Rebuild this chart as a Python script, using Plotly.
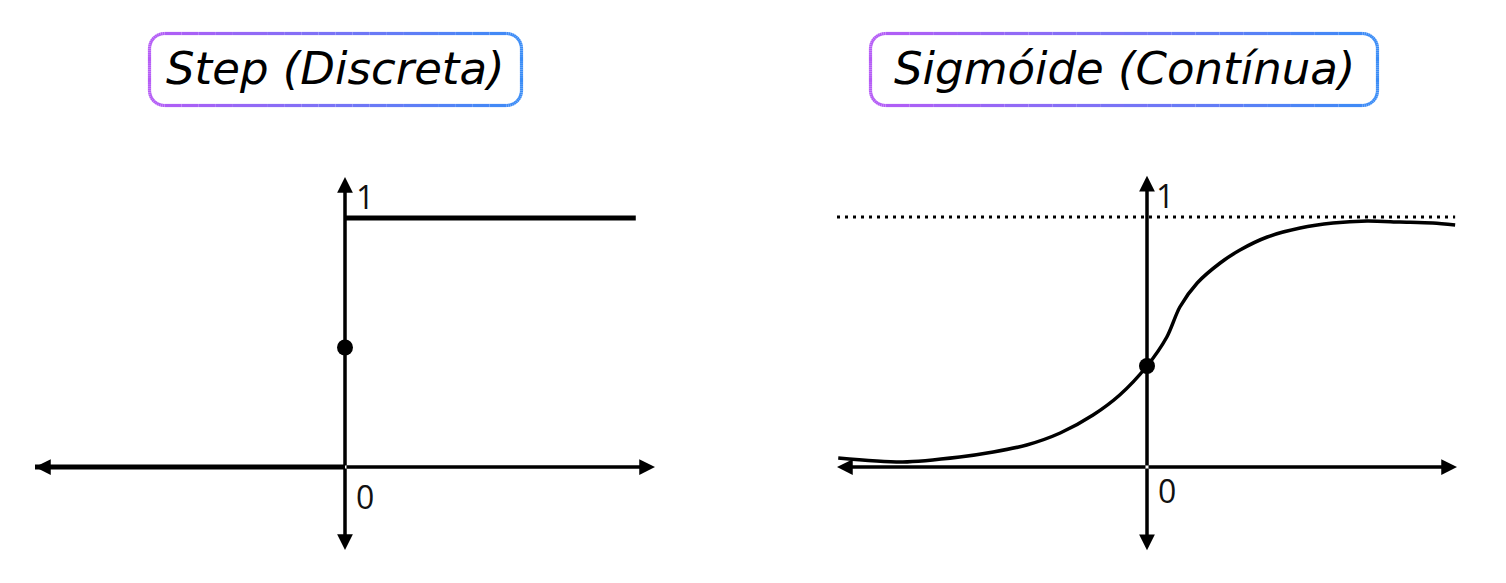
import plotly.graph_objects as go
import numpy as np

W, H = 1506, 583

# ---------------- data ----------------
titles = ["Step (Discreta)", "Sigmóide (Contínua)"]
tick_labels = ["0", "1"]

step_low_x = [-5, 0]
step_low_y = [0, 0]
step_high_x = [0, 4.69]
step_high_y = [1, 1]
step_point_x = [0]
step_point_y = [0.48]

sig_x = [-4.98, -3.94, -3.02, -2.48, -1.94, -1.40, -0.87, -0.44, 0.0, 0.32, 0.53,
         0.81, 1.18, 1.50, 1.94, 2.47, 3.00, 3.55, 4.08, 4.61, 4.97]
sig_y = [0.036, 0.020, 0.040, 0.060, 0.088, 0.136, 0.208, 0.288, 0.404, 0.520, 0.640,
         0.736, 0.816, 0.868, 0.920, 0.956, 0.976, 0.984, 0.980, 0.976, 0.968]
sig_point_x = [0]
sig_point_y = [0.404]
asymptote_x = [-5.0, 4.97]
asymptote_y = [1, 1]

# axis extents (data units)
x_ext = (-5, 5)
y_ext = (-0.333, 1.165)

fig = go.Figure()

# Step panel
fig.add_trace(go.Scatter(x=step_low_x, y=step_low_y, mode="lines",
                         line=dict(color="black", width=5), xaxis="x", yaxis="y"))
fig.add_trace(go.Scatter(x=step_high_x, y=step_high_y, mode="lines",
                         line=dict(color="black", width=5), xaxis="x", yaxis="y"))
fig.add_trace(go.Scatter(x=step_point_x, y=step_point_y, mode="markers",
                         marker=dict(color="black", size=16), xaxis="x", yaxis="y"))

# Sigmoid panel
fig.add_trace(go.Scatter(x=asymptote_x, y=asymptote_y, mode="lines",
                         line=dict(color="black", width=3, dash="3px,5px"),
                         xaxis="x2", yaxis="y2"))
fig.add_trace(go.Scatter(x=sig_x, y=sig_y, mode="lines",
                         line=dict(color="black", width=3.5, shape="spline", smoothing=0.8),
                         xaxis="x2", yaxis="y2"))
fig.add_trace(go.Scatter(x=sig_point_x, y=sig_point_y, mode="markers",
                         marker=dict(color="black", size=16), xaxis="x2", yaxis="y2"))

annotations = []
for xr, yr in (("x", "y"), ("x2", "y2")):
    ends = [(x_ext[0], 0), (x_ext[1], 0), (0, y_ext[0]), (0, y_ext[1])]
    for ex, ey in ends:
        annotations.append(dict(x=ex, y=ey, ax=0, ay=0, xref=xr, yref=yr,
                                axref=xr, ayref=yr, text="", showarrow=True,
                                arrowhead=2, arrowsize=0.9, arrowwidth=3.5,
                                arrowcolor="black", standoff=0, startstandoff=0))

# tick labels
label_pos = {
    ("x", "y"): [(0.32, -0.12), (0.32, 1.088)],
    ("x2", "y2"): [(0.32, -0.092), (0.29, 1.088)],
}
for (xr, yr), pos in label_pos.items():
    for txt, (lx, ly) in zip(tick_labels, pos):
        annotations.append(dict(x=lx, y=ly, xref=xr, yref=yr, text=txt,
                                showarrow=False,
                                font=dict(family="Open Sans", size=32, color="#111")))

# titles with gradient-bordered rounded boxes
boxes = [(148, 32, 523, 107), (869, 32, 1379, 107)]
c_left = np.array([182, 92, 246])
c_right = np.array([58, 141, 246])


def rounded_points(x0, y0, x1, y1, r, n_arc=12, n_side=20):
    pts = []
    def side(a, b):
        for t in np.linspace(0, 1, n_side, endpoint=False):
            pts.append((a[0] + (b[0] - a[0]) * t, a[1] + (b[1] - a[1]) * t))
    def arc(cx, cy, a0, a1):
        for t in np.linspace(a0, a1, n_arc, endpoint=False):
            pts.append((cx + r * np.cos(t), cy + r * np.sin(t)))
    side((x0 + r, y0), (x1 - r, y0))
    arc(x1 - r, y0 + r, -np.pi / 2, 0)
    side((x1, y0 + r), (x1, y1 - r))
    arc(x1 - r, y1 - r, 0, np.pi / 2)
    side((x1 - r, y1), (x0 + r, y1))
    arc(x0 + r, y1 - r, np.pi / 2, np.pi)
    side((x0, y1 - r), (x0, y0 + r))
    arc(x0 + r, y0 + r, np.pi, 1.5 * np.pi)
    pts.append(pts[0])
    return pts


shapes = []
for (bx0, by0, bx1, by1), title in zip(boxes, titles):
    pts = rounded_points(bx0 + 1.5, by0 + 1.5, bx1 - 1.5, by1 - 1.5, 15)
    for i in range(len(pts) - 1):
        (ax_, ay_), (bx_, by_) = pts[i], pts[i + 1]
        f = ((ax_ + bx_) / 2 - bx0) / (bx1 - bx0)
        c = (c_left * (1 - f) + c_right * f).astype(int)
        path = "M{:.5f},{:.5f} L{:.5f},{:.5f}".format(ax_ / W, 1 - ay_ / H, bx_ / W, 1 - by_ / H)
        shapes.append(dict(type="path", path=path, xref="paper", yref="paper",
                           line=dict(color="rgb({},{},{})".format(*c), width=3.2)))
    annotations.append(dict(x=(bx0 + bx1) / 2 / W, y=1 - 68 / H, xref="paper", yref="paper",
                            text="<i>" + title + "</i>", showarrow=False,
                            xanchor="center", yanchor="middle",
                            font=dict(family="DejaVu Sans", size=45, color="black")))

fig.update_layout(
    width=W, height=H, margin=dict(l=0, r=0, t=0, b=0, pad=0),
    paper_bgcolor="white", plot_bgcolor="white", showlegend=False,
    xaxis=dict(domain=[0, 0.5], range=[-345 / 62, (753 - 345) / 62], visible=False, fixedrange=True),
    yaxis=dict(domain=[0, 1], range=[-(583 - 467) / 249, 467 / 249], visible=False, fixedrange=True),
    xaxis2=dict(domain=[0.5, 1], range=[(753 - 1147) / 62, (1506 - 1147) / 62], visible=False,
                fixedrange=True, anchor="y2"),
    yaxis2=dict(domain=[0, 1], range=[-(583 - 467) / 250, 467 / 250], visible=False,
                fixedrange=True, anchor="x2"),
    annotations=annotations, shapes=shapes,
)

fig.write_html("out.html", config={"displayModeBar": False})
